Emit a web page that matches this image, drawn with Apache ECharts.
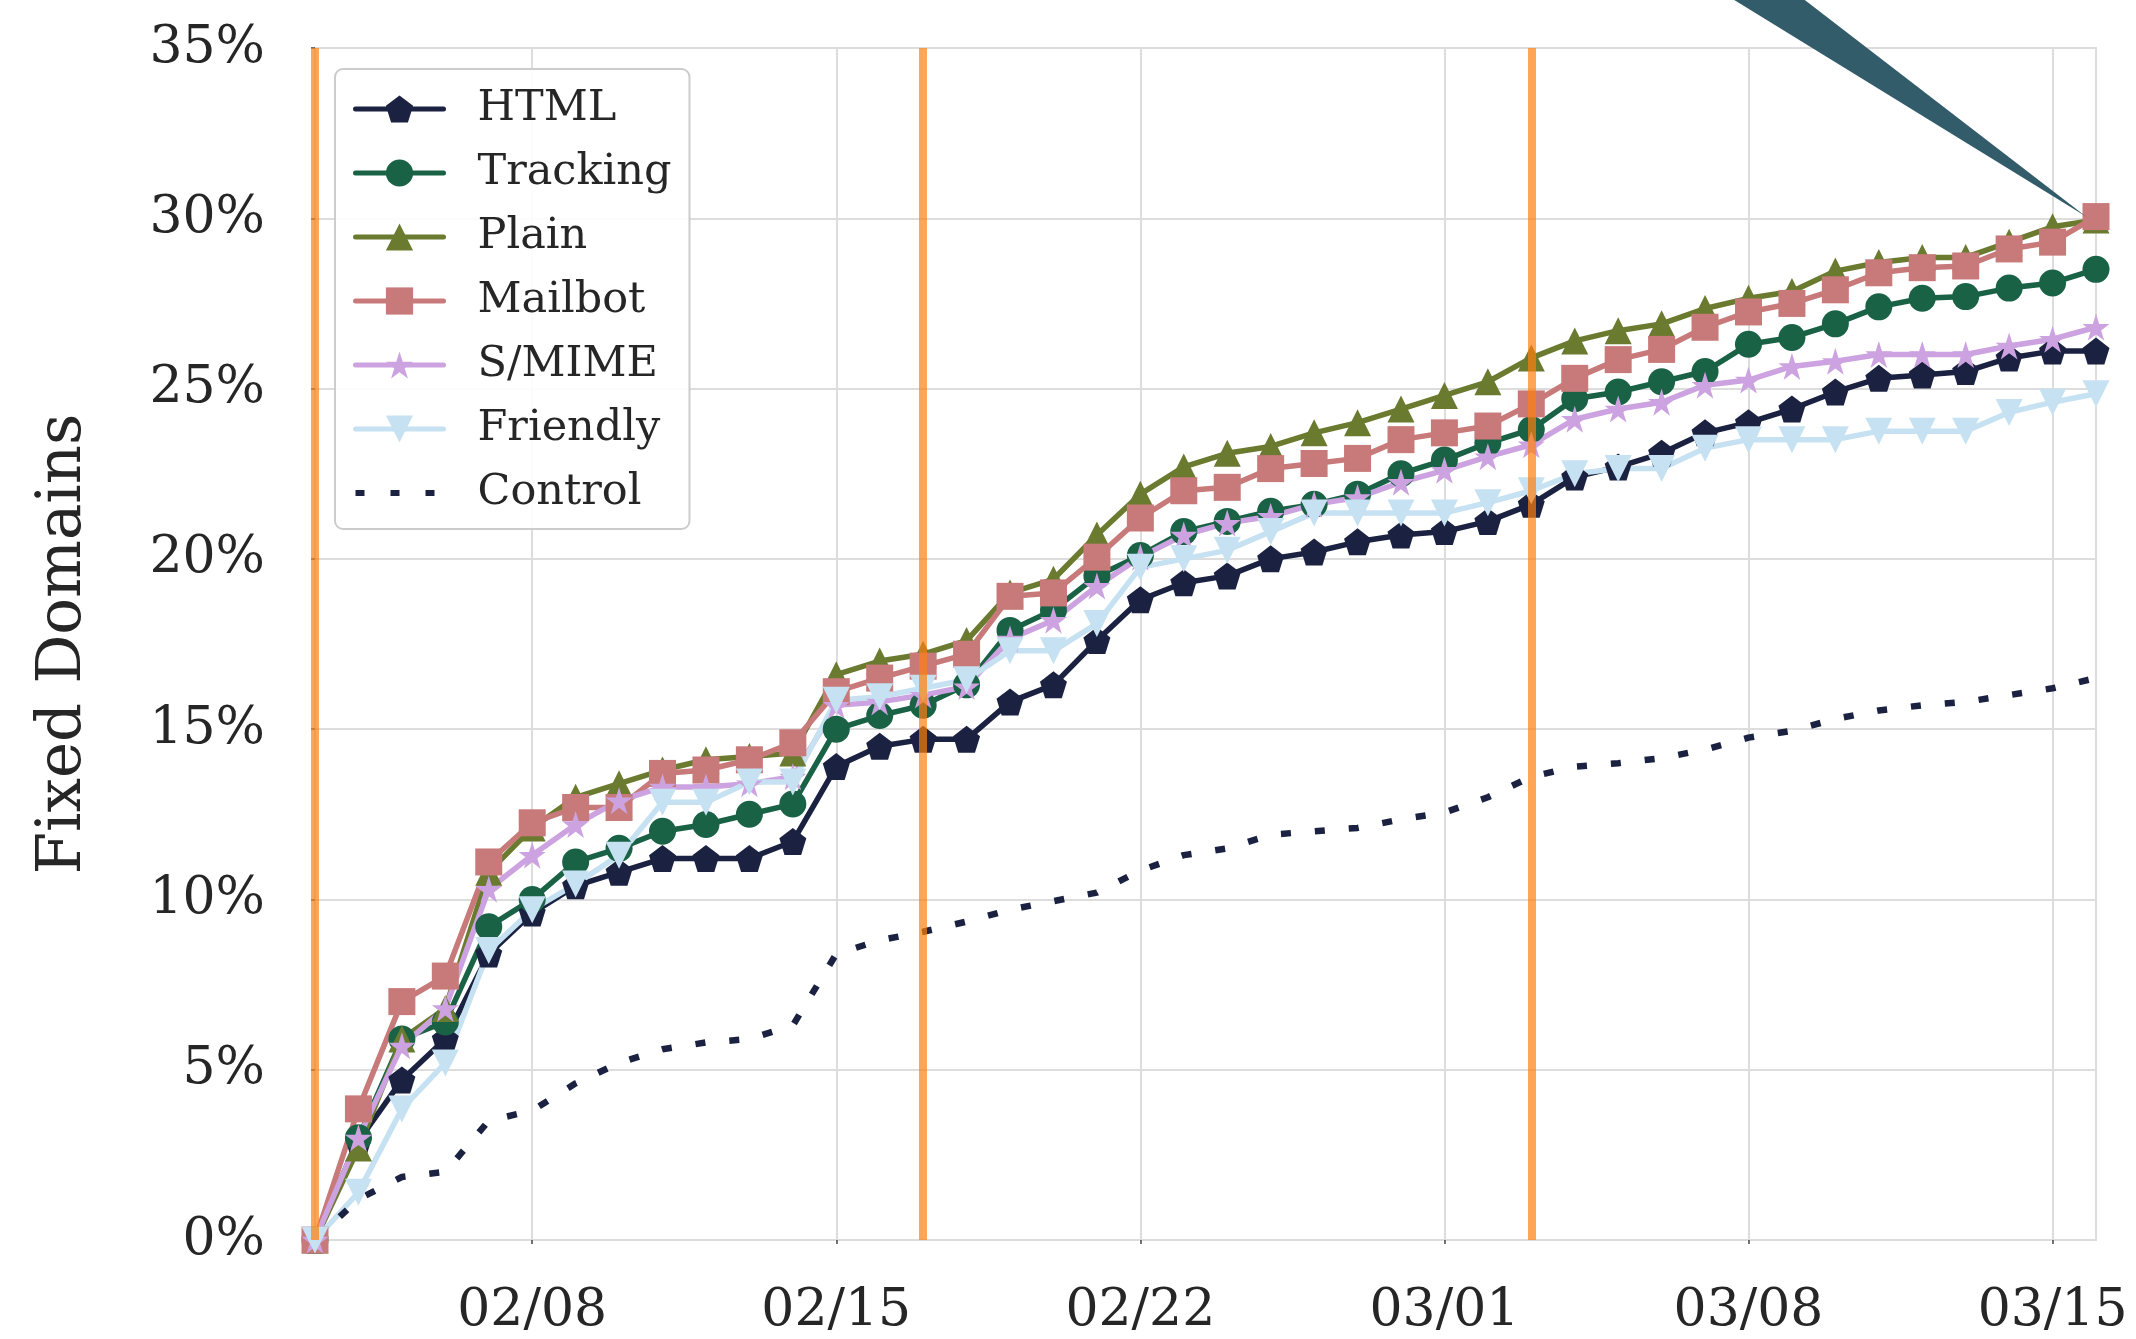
<!DOCTYPE html>
<html>
<head>
<meta charset="utf-8">
<script src="https://cdn.jsdelivr.net/npm/echarts@6/dist/echarts.min.js"></script>
<style>
  html, body { margin: 0; padding: 0; background: #ffffff; }
  #chart { width: 2136px; height: 1339px; }
</style>
</head>
<body>
<div id="chart"></div>
<script>
// Daily observation dates
const dates = [
  '02/03','02/04','02/05','02/06','02/07','02/08','02/09','02/10','02/11','02/12',
  '02/13','02/14','02/15','02/16','02/17','02/18','02/19','02/20','02/21','02/22',
  '02/23','02/24','02/25','02/26','02/27','02/28','03/01','03/02','03/03','03/04',
  '03/05','03/06','03/07','03/08','03/09','03/10','03/11','03/12','03/13','03/14',
  '03/15','03/16'
];
// Dates that carry a tick label / vertical grid line
const tickDates = ['02/08', '02/15', '02/22', '03/01', '03/08', '03/15'];
// Dates when notification rounds were sent
const roundDates = ['02/03', '02/17', '03/03'];

// Share of fixed domains (%) per notification group
const htmlFixed = [0, 2.9, 4.7, 5.9, 8.4, 9.6, 10.4, 10.8, 11.2, 11.2,
  11.2, 11.7, 13.9, 14.5, 14.7, 14.7, 15.8, 16.3, 17.6, 18.8,
  19.3, 19.5, 20.0, 20.2, 20.5, 20.7, 20.8, 21.1, 21.6, 22.4,
  22.7, 23.1, 23.7, 24.0, 24.4, 24.9, 25.3, 25.4, 25.5, 25.9,
  26.1, 26.1];
const trackingFixed = [0, 3.0, 5.9, 6.4, 9.2, 10.0, 11.1, 11.5, 12.0, 12.2,
  12.5, 12.8, 15.0, 15.4, 15.7, 16.3, 17.9, 18.5, 19.5, 20.1,
  20.8, 21.1, 21.4, 21.6, 21.9, 22.5, 22.9, 23.4, 23.8, 24.7,
  24.9, 25.2, 25.5, 26.3, 26.5, 26.9, 27.4, 27.65, 27.7, 27.95,
  28.1, 28.5];
const plainFixed = [0, 2.7, 5.9, 6.8, 10.8, 12.1, 13.0, 13.4, 13.8, 14.1,
  14.2, 14.3, 16.6, 17.0, 17.2, 17.6, 19.0, 19.4, 20.7, 21.9,
  22.7, 23.1, 23.3, 23.7, 24.0, 24.4, 24.8, 25.2, 25.9, 26.4,
  26.7, 26.9, 27.35, 27.65, 27.85, 28.45, 28.7, 28.85, 28.85, 29.3,
  29.75, 29.95];
const mailbotFixed = [0, 3.85, 7.0, 7.75, 11.1, 12.25, 12.7, 12.7, 13.7, 13.8,
  14.1, 14.6, 16.1, 16.5, 16.85, 17.2, 18.9, 19.0, 20.05, 21.2,
  22.0, 22.1, 22.65, 22.8, 22.95, 23.5, 23.7, 23.9, 24.55, 25.3,
  25.85, 26.15, 26.8, 27.25, 27.5, 27.9, 28.4, 28.55, 28.6, 29.1,
  29.3, 30.05];
const smimeFixed = [0, 3.0, 5.7, 6.8, 10.3, 11.3, 12.2, 12.9, 13.3, 13.3,
  13.4, 13.6, 15.7, 15.8, 16.0, 16.25, 17.65, 18.2, 19.2, 20.05,
  20.7, 21.05, 21.25, 21.6, 21.8, 22.25, 22.6, 23.0, 23.35, 24.1,
  24.4, 24.6, 25.1, 25.25, 25.65, 25.8, 26.0, 26.0, 26.0, 26.25,
  26.45, 26.8];
const friendlyFixed = [0, 1.4, 3.85, 5.2, 8.5, 9.7, 10.45, 11.3, 12.85, 12.85,
  13.45, 13.45, 15.85, 15.95, 16.2, 16.45, 17.3, 17.3, 18.1, 19.75,
  20.0, 20.25, 20.8, 21.35, 21.35, 21.35, 21.35, 21.65, 22.0, 22.5,
  22.65, 22.65, 23.25, 23.5, 23.5, 23.5, 23.75, 23.75, 23.75, 24.3,
  24.6, 24.85];
const controlFixed = [0, 1.2, 1.85, 2.0, 3.5, 3.8, 4.6, 5.2, 5.6, 5.8,
  5.9, 6.3, 8.4, 8.8, 9.05, 9.35, 9.7, 9.95, 10.2, 10.85,
  11.3, 11.5, 11.9, 12.0, 12.1, 12.35, 12.55, 13.0, 13.6, 13.9,
  14.0, 14.15, 14.4, 14.75, 14.95, 15.3, 15.55, 15.7, 15.8, 16.0,
  16.2, 16.5];

const groupNames = ['HTML', 'Tracking', 'Plain', 'Mailbot', 'S/MIME', 'Friendly', 'Control'];

const FONT = 'DejaVu Serif';
const TEXT = '#262626';
const GRID = '#dddddd';

const PENTAGON = 'path://M0,-1L0.951,-0.309L0.588,0.809L-0.588,0.809L-0.951,-0.309Z';
const STAR = 'path://M0,-1L0.2245,-0.309L0.951,-0.309L0.363,0.118L0.588,0.809L0,0.382L-0.588,0.809L-0.363,0.118L-0.951,-0.309L-0.2245,-0.309Z';
// legend key for the dotted control line: three short dashes in an 88x28 box
const DASH_KEY = 'path://M0,0M88,28M0,11h9v6h-9zM35,11h9v6h-9zM70,11h9v6h-9z';

function markedLine(name, data, color, symbol, extra) {
  return Object.assign({
    name: name,
    type: 'line',
    data: data,
    symbol: symbol,
    symbolSize: 27,
    showSymbol: true,
    lineStyle: { color: color, width: 5.5 },
    itemStyle: { color: color },
    emphasis: { disabled: true },
    silent: true
  }, extra || {});
}

const onTick = (idx, val) => tickDates.indexOf(val !== undefined ? val : dates[idx]) >= 0;

const chart = echarts.init(document.getElementById('chart'), null, { renderer: 'canvas' });

chart.setOption({
  animation: false,
  backgroundColor: '#ffffff',
  grid: {
    left: 315, right: 40, top: 48, bottom: 99,
    show: true, borderColor: GRID, borderWidth: 2
  },
  legend: {
    orient: 'vertical',
    left: 335, top: 69,
    data: groupNames.map(n => n === 'Control' ? { name: n, icon: DASH_KEY } : { name: n }),
    itemWidth: 88, itemHeight: 34, itemGap: 20,
    padding: [18, 18, 14, 18],
    backgroundColor: 'rgba(255,255,255,0.9)',
    borderColor: '#cccccc', borderWidth: 2, borderRadius: 8,
    selectedMode: false,
    lineStyle: { width: 5, cap: 'round' },
    textStyle: { fontFamily: FONT, fontSize: 43, color: TEXT, lineHeight: 44, padding: [0, 0, 0, 29] }
  },
  xAxis: {
    type: 'category',
    data: dates,
    boundaryGap: false,
    axisLine: { show: true, lineStyle: { color: GRID, width: 2 } },
    axisTick: { show: true, interval: onTick, length: 4, lineStyle: { color: '#444', width: 1.5 } },
    axisLabel: { interval: onTick, fontFamily: FONT, fontSize: 52, color: TEXT, margin: 45 },
    splitLine: { show: true, interval: onTick, lineStyle: { color: GRID, width: 2 } }
  },
  yAxis: {
    type: 'value',
    min: 0, max: 35, interval: 5,
    name: 'Fixed Domains',
    nameLocation: 'middle',
    nameGap: 220,
    nameTextStyle: { fontFamily: FONT, fontSize: 61, color: TEXT },
    axisLine: { show: false },
    axisTick: { show: true, length: 4, lineStyle: { color: '#444', width: 1.5 } },
    axisLabel: { formatter: '{value}%', fontFamily: FONT, fontSize: 52, color: TEXT, margin: 50 },
    splitLine: { show: true, lineStyle: { color: GRID, width: 2 } }
  },
  series: [
    markedLine('HTML', htmlFixed, '#1b2141', PENTAGON),
    markedLine('Tracking', trackingFixed, '#1a6246', 'circle'),
    markedLine('Plain', plainFixed, '#6a7b30', 'triangle'),
    markedLine('Mailbot', mailbotFixed, '#c77a79', 'rect'),
    markedLine('S/MIME', smimeFixed, '#cca3e0', STAR),
    markedLine('Friendly', friendlyFixed, '#c6e2f2', 'triangle', { symbolRotate: 180 }),
    {
      name: 'Control',
      type: 'line',
      data: controlFixed,
      symbol: 'none',
      lineStyle: { color: '#1b2141', width: 6.5, type: [10, 24], cap: 'butt' },
      itemStyle: { color: '#1b2141' },
      emphasis: { disabled: true },
      silent: true
    },
    {
      // notification rounds
      name: 'rounds',
      type: 'line',
      data: [],
      z: 5,
      silent: true,
      markLine: {
        symbol: 'none',
        silent: true,
        label: { show: false },
        lineStyle: { color: '#ff7f0e', opacity: 0.7, width: 8, type: 'solid' },
        data: roundDates.map(d => ({ xAxis: d }))
      }
    },
    {
      // pointer wedge onto the last Mailbot value
      name: 'pointer',
      type: 'custom',
      z: 4,
      clip: false,
      silent: true,
      data: [[dates.length - 1, mailbotFixed[mailbotFixed.length - 1]]],
      encode: { x: 0, y: 1 },
      renderItem: function (params, api) {
        const p = api.coord([api.value(0), api.value(1)]);
        const tx = p[0] - 10, ty = p[1];
        return {
          type: 'polygon',
          shape: { points: [[tx - 419, ty - 258], [tx - 335, ty - 258], [tx, ty]] },
          style: { fill: '#335c6b' }
        };
      }
    }
  ]
});
</script>
</body>
</html>
